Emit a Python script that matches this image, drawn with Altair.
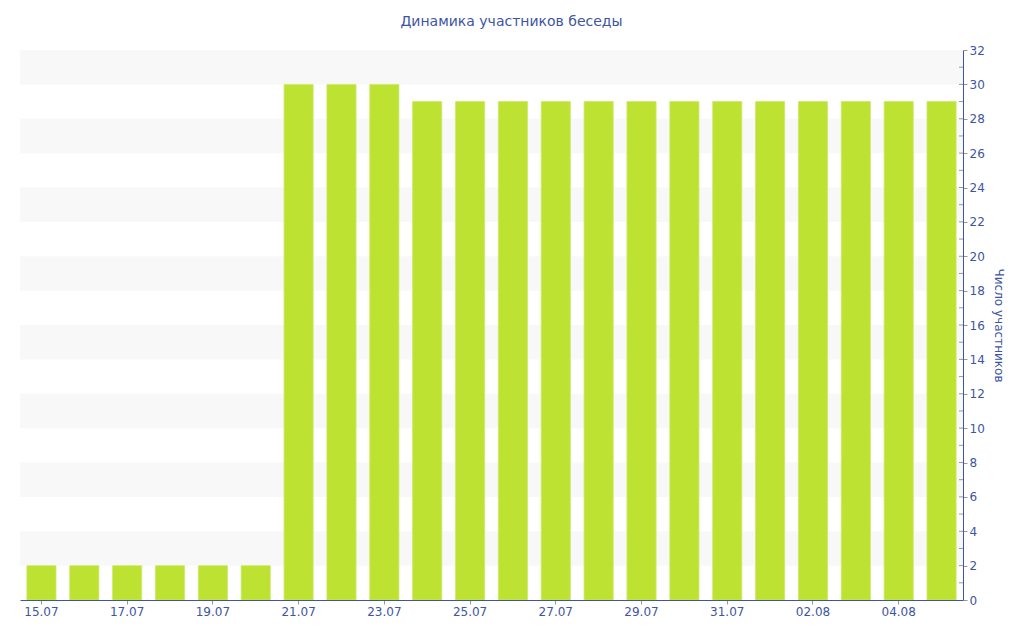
import altair as alt
import pandas as pd

dates = ["15.07", "16.07", "17.07", "18.07", "19.07", "20.07", "21.07", "22.07",
         "23.07", "24.07", "25.07", "26.07", "27.07", "28.07", "29.07", "30.07",
         "31.07", "01.08", "02.08", "03.08", "04.08", "05.08"]
members = [2, 2, 2, 2, 2, 2, 30, 30, 30, 29, 29, 29, 29, 29, 29, 29, 29, 29, 29, 29, 29, 29]
x_labels = ["15.07", "17.07", "19.07", "21.07", "23.07", "25.07", "27.07", "29.07",
            "31.07", "02.08", "04.08"]
band_lo = [2, 6, 10, 14, 18, 22, 26, 30]
band_hi = [4, 8, 12, 16, 20, 24, 28, 32]
y_ticks = [0, 2, 4, 6, 8, 10, 12, 14, 16, 18, 20, 22, 24, 26, 28, 30, 32]
minor_ticks = [1, 2, 3, 4, 5, 6, 7, 8, 9, 10, 11, 12, 13, 14, 15, 16, 17, 18, 19, 20,
               21, 22, 23, 24, 25, 26, 27, 28, 29, 30, 31]

W, H = 943, 550
BLUE = "#3d55a3"
FONT = "DejaVu Sans"

df = pd.DataFrame({"date": dates, "count": members})
bands = pd.DataFrame({"lo": band_lo, "hi": band_hi})
minors = pd.DataFrame({"m": minor_ticks})

yscale = alt.Scale(domain=[0, 32], nice=False, zero=True)
yaxis = alt.Axis(orient="right", values=y_ticks, grid=False, title="Число участников",
                 domainColor=BLUE, tickColor="#999999", tickSize=4,
                 labelColor=BLUE, labelFont=FONT, labelFontSize=12, labelPadding=2,
                 titleColor=BLUE, titleFont=FONT, titleFontSize=12, titleFontWeight="normal",
                 titlePadding=7, zindex=1)

band_layer = alt.Chart(bands).mark_rect(color="#f8f8f8").encode(
    x=alt.value(0), x2=alt.value(W),
    y=alt.Y("lo:Q", scale=yscale, axis=yaxis), y2="hi:Q")

bar_layer = alt.Chart(df).mark_bar(color="#bde232", stroke="#cfe96a", strokeWidth=0.8).encode(
    x=alt.X("date:N", sort=dates, title=None,
            scale=alt.Scale(paddingInner=0.32, paddingOuter=0.16),
            axis=alt.Axis(values=x_labels, labelAngle=0, domainColor=BLUE,
                          tickColor="#999999", tickSize=4, labelColor=BLUE,
                          labelFont=FONT, labelFontSize=12, labelPadding=2, zindex=1)),
    y=alt.Y("count:Q", scale=yscale, axis=yaxis))

minor_layer = alt.Chart(minors).mark_rule(color="#999999", strokeWidth=1).encode(
    x=alt.value(W - 4), x2=alt.value(W),
    y=alt.Y("m:Q", scale=yscale, axis=yaxis))

chart = alt.layer(band_layer, bar_layer, minor_layer).properties(
    width=W, height=H,
    title=alt.TitleParams("Динамика участников беседы", font=FONT, fontSize=14,
                          fontWeight="normal", color=BLUE, anchor="middle",
                          dx=20, offset=15),
    autosize=alt.AutoSizeParams(type="none"),
    padding={"left": 12, "top": 42, "right": 53, "bottom": 32},
).configure_view(stroke=None)

chart.save("out.html", embed_options={"renderer": "svg", "actions": False})
